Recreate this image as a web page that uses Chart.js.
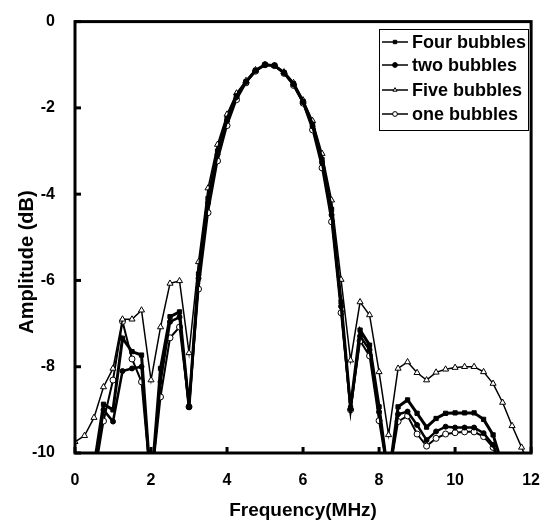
<!DOCTYPE html>
<html>
<head>
<meta charset="utf-8">
<script src="https://cdn.jsdelivr.net/npm/chart.js@4.4.1/dist/chart.umd.min.js"></script>
<style>
  html, body { margin: 0; padding: 0; background: #fff; }
  #wrap { width: 550px; height: 527px; }
</style>
</head>
<body>
<div id="wrap"><canvas id="chart" width="550" height="527"></canvas></div>
<script>
// Frequency axis (MHz), one point every 0.25 MHz
const freqs = [0, 0.25, 0.5, 0.75, 1, 1.25, 1.5, 1.75, 2, 2.25, 2.5, 2.75, 3, 3.25, 3.5, 3.75,
  4, 4.25, 4.5, 4.75, 5, 5.25, 5.5, 5.75, 6, 6.25, 6.5, 6.75, 7, 7.25, 7.5, 7.75,
  8, 8.25, 8.5, 8.75, 9, 9.25, 9.5, 9.75, 10, 10.25, 10.5, 10.75, 11, 11.25, 11.5, 11.75, 12];

const seriesNames = ["Four bubbles", "two bubbles", "Five bubbles", "one bubbles"];

const fourBubbles = [null, null, -10.3, -8.87, -9.0, -7.34, -7.65, -7.73, -10.8, -8.04, -6.84, -6.73, -8.93,
  -5.85, -4.1, -3.0, -2.25, -1.72, -1.39, -1.13, -1.0, -1.02, -1.18, -1.44, -1.85, -2.38, -3.2, -4.35,
  -6.5, -8.95, -7.15, -7.5, -8.93, -10.6, -8.93, -8.77, -9.08, -9.4, -9.2, -9.08, -9.07, -9.07, -9.07,
  -9.22, -9.58, -10.3, null, null, null];

const twoBubbles = [null, null, -10.5, -9.0, -9.27, -8.1, -8.04, -8.0, -10.8, -8.35, -6.96, -6.85, -8.93,
  -5.95, -4.2, -3.08, -2.3, -1.75, -1.4, -1.14, -1.0, -1.02, -1.19, -1.46, -1.87, -2.43, -3.27, -4.48,
  -6.6, -8.98, -7.29, -7.61, -9.05, -10.6, -9.1, -9.04, -9.35, -9.7, -9.5, -9.39, -9.41, -9.41, -9.41,
  -9.54, -9.81, -10.4, null, null, null];

const fiveBubbles = [-9.74, -9.6, -9.18, -8.47, -8.04, -6.9, -6.9, -6.69, -8.31, -7.08, -6.07, -6.01, -7.68,
  -5.57, -3.86, -2.85, -2.15, -1.66, -1.37, -1.12, -1.0, -1.02, -1.17, -1.42, -1.82, -2.3, -3.06, -4.14,
  -5.98, -7.85, -6.5, -6.8, -8.12, -9.58, -8.04, -7.89, -8.14, -8.31, -8.13, -8.06, -8.02, -8.0, -8.0,
  -8.12, -8.39, -8.83, -9.37, -9.87, -10.4];

const oneBubbles = [null, null, -10.6, -9.26, -8.31, -6.95, -7.82, -8.35, -10.8, -8.7, -7.33, -7.08, -8.93,
  -6.2, -4.43, -3.23, -2.41, -1.81, -1.42, -1.15, -1.0, -1.02, -1.2, -1.48, -1.89, -2.51, -3.39, -4.64,
  -6.75, -9.0, -7.4, -7.75, -9.25, -10.6, -9.27, -9.14, -9.56, -9.84, -9.66, -9.56, -9.53, -9.51, -9.51,
  -9.62, -9.87, -10.5, null, null, null];

const xTitle = "Frequency(MHz)";
const yTitle = "Amplitude (dB)";

const FONT = "'Liberation Sans', Arial, Helvetica, sans-serif";

const toPoints = vals => freqs.map((f, i) => ({ x: f, y: vals[i] }));

const styles = [
  { pointStyle: "rect",     radius: 3,   fill: "#000", width: 3 },
  { pointStyle: "circle",   radius: 2.5, fill: "#000", width: 2.5 },
  { pointStyle: "triangle", radius: 3.5, fill: "#fff", width: 1.5 },
  { pointStyle: "circle",   radius: 3,   fill: "#fff", width: 2 }
];

const allSeries = [fourBubbles, twoBubbles, fiveBubbles, oneBubbles];

const datasets = allSeries.map((vals, i) => ({
  label: seriesNames[i],
  data: toPoints(vals),
  borderColor: "#000",
  borderWidth: styles[i].width,
  backgroundColor: styles[i].fill,
  pointStyle: styles[i].pointStyle,
  pointRadius: styles[i].radius,
  pointBackgroundColor: styles[i].fill,
  pointBorderColor: "#000",
  pointBorderWidth: 1,
  tension: 0,
  spanGaps: false
}));

// frame, inward ticks, titles and the boxed legend
const decor = {
  id: "decor",
  afterDatasetsDraw(chart) {
    const { ctx, chartArea: a, scales } = chart;
    ctx.save();
    ctx.strokeStyle = "#000";
    ctx.lineWidth = 3;
    ctx.strokeRect(a.left, a.top, a.right - a.left, a.bottom - a.top);

    scales.y.ticks.forEach(t => {
      const py = scales.y.getPixelForValue(t.value);
      ctx.beginPath(); ctx.moveTo(a.left, py); ctx.lineTo(a.left + 6, py); ctx.stroke();
    });
    scales.x.ticks.forEach(t => {
      const px = scales.x.getPixelForValue(t.value);
      ctx.beginPath(); ctx.moveTo(px, a.bottom); ctx.lineTo(px, a.bottom - 6); ctx.stroke();
    });

    // axis titles
    ctx.fillStyle = "#000";
    ctx.font = "bold 19px " + FONT;
    ctx.textAlign = "center";
    ctx.textBaseline = "middle";
    ctx.fillText(xTitle, (a.left + a.right) / 2, 511);
    ctx.save();
    ctx.translate(27, 262);
    ctx.rotate(-Math.PI / 2);
    ctx.font = "bold 20px " + FONT;
    ctx.fillText(yTitle, 0, 0);
    ctx.restore();

    // legend
    const lx = 379, ly = 29, lw = 149, lh = 101;
    ctx.fillStyle = "#fff";
    ctx.fillRect(lx, ly, lw, lh);
    ctx.lineWidth = 1;
    ctx.strokeStyle = "#000";
    ctx.strokeRect(lx + 0.5, ly + 0.5, lw, lh);
    const rows = [42, 65, 90, 114];
    chart.data.datasets.forEach((ds, i) => {
      const y = rows[i];
      ctx.lineWidth = 1.5;
      ctx.beginPath(); ctx.moveTo(382, y); ctx.lineTo(408, y); ctx.stroke();
      ctx.fillStyle = ds.pointBackgroundColor;
      ctx.lineWidth = 1;
      Chart.helpers.drawPoint(ctx, { pointStyle: ds.pointStyle, radius: 2.4, rotation: 0, borderWidth: 1 }, 395, y);
      ctx.fillStyle = "#000";
      ctx.font = "bold 18px " + FONT;
      ctx.textAlign = "left";
      ctx.textBaseline = "middle";
      ctx.fillText(ds.label, 412, y + 1);
    });
    ctx.restore();
  }
};

new Chart(document.getElementById("chart"), {
  type: "line",
  data: { datasets },
  options: {
    responsive: false,
    animation: false,
    devicePixelRatio: 1,
    layout: { padding: { top: 21, right: 14, left: 0, bottom: 0 } },
    plugins: { legend: { display: false }, tooltip: { enabled: false } },
    scales: {
      x: {
        type: "linear", min: 0, max: 12,
        grid: { display: false }, border: { display: false },
        ticks: { stepSize: 2, color: "#000", padding: 10, font: { family: FONT, size: 16, weight: "bold" } },
        afterFit: s => { s.height = 74; }
      },
      y: {
        min: -10, max: 0,
        grid: { display: false }, border: { display: false },
        ticks: { stepSize: 2, color: "#000", padding: 12, font: { family: FONT, size: 16, weight: "bold" } },
        afterFit: s => { s.width = 75; }
      }
    }
  },
  plugins: [decor]
});
</script>
</body>
</html>
